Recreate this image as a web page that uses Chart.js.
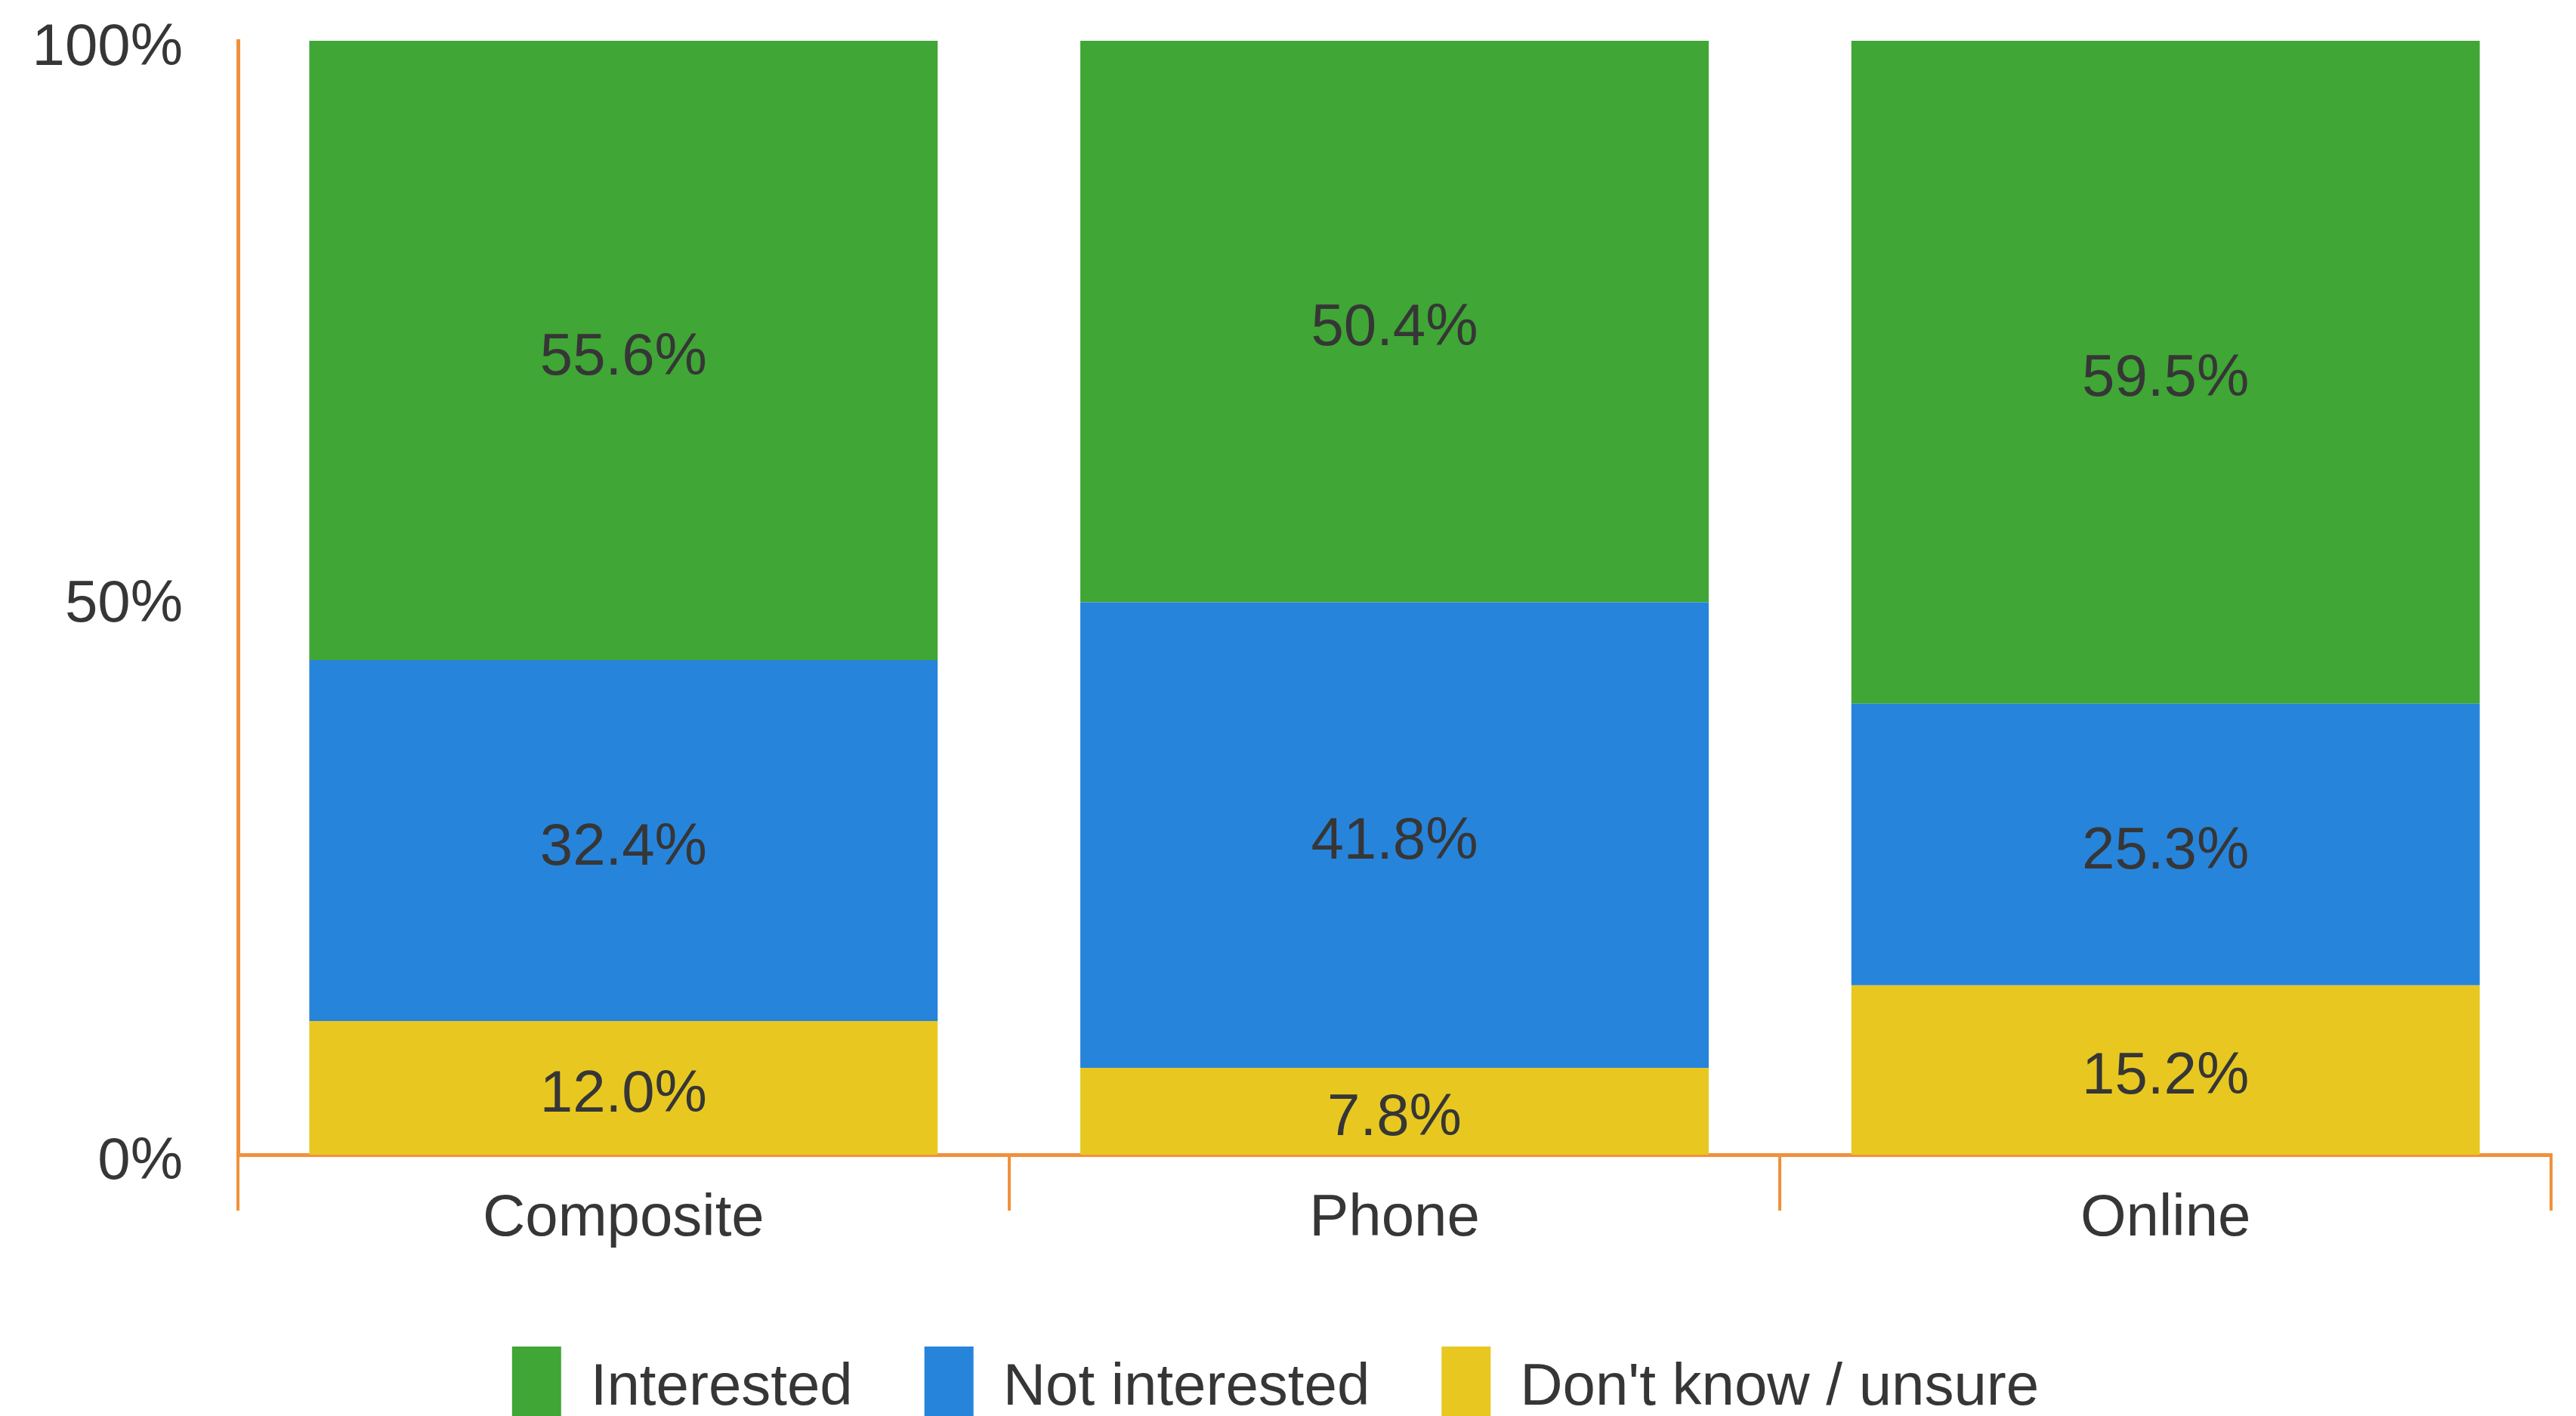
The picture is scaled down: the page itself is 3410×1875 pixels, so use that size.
<!DOCTYPE html>
<html>
<head>
<meta charset="utf-8">
<script src="https://cdn.jsdelivr.net/npm/chart.js@4.4.0/dist/chart.umd.min.js"></script>
<style>
    html, body { margin: 0; padding: 0; background: #fff; overflow: hidden; }
</style>
</head>
<body>
<canvas id="myChart" width="3410" height="1903"></canvas>
<script>
// Datos (porcentajes)
const categories = ['Composite', 'Phone', 'Online'];
const interested = [55.6, 50.4, 59.5];
const notInterested = [32.4, 41.8, 25.3];
const unsure = [12.0, 7.8, 15.2];
const yTicks = [0, 50, 100];

const axisColor = '#f0913c';
const textColor = '#363636';

Chart.defaults.font.family = '"Liberation Sans", Arial, sans-serif';
Chart.defaults.font.size = 78;
Chart.defaults.color = textColor;

// Etiquetas dentro de cada segmento
const barLabels = {
    id: 'barLabels',
    afterDatasetsDraw(chart) {
        const ctx = chart.ctx;
        ctx.save();
        ctx.font = '78px "Liberation Sans", Arial, sans-serif';
        ctx.fillStyle = textColor;
        ctx.textAlign = 'center';
        ctx.textBaseline = 'middle';
        chart.data.datasets.forEach((ds, i) => {
            const meta = chart.getDatasetMeta(i);
            meta.data.forEach((bar, j) => {
                const y = (bar.y + bar.base) / 2 + 10;
                ctx.fillText(ds.data[j].toFixed(1) + '%', bar.x, y);
            });
        });
        ctx.restore();
    }
};

const ctx = document.getElementById('myChart').getContext('2d');
new Chart(ctx, {
    type: 'bar',
    data: {
        labels: categories,
        datasets: [
            { label: "Don't know / unsure", data: unsure, backgroundColor: '#e8c820' },
            { label: 'Not interested', data: notInterested, backgroundColor: '#2784db' },
            { label: 'Interested', data: interested, backgroundColor: '#40a636' }
        ]
    },
    options: {
        responsive: false,
        animation: false,
        devicePixelRatio: 1,
        datasets: {
            bar: { categoryPercentage: 1, barPercentage: 0.815, borderWidth: 0 }
        },
        layout: { padding: { top: 54, right: 33, left: 0, bottom: 0 } },
        plugins: {
            tooltip: { enabled: false },
            legend: {
                position: 'bottom',
                reverse: true,
                labels: {
                    boxWidth: 65,
                    boxHeight: 110,
                    padding: 95,
                    color: textColor,
                    font: { size: 78 }
                }
            }
        },
        scales: {
            x: {
                stacked: true,
                grid: {
                    display: true,
                    drawOnChartArea: false,
                    drawTicks: true,
                    tickLength: 74,
                    color: axisColor,
                    lineWidth: 4
                },
                border: { display: true, color: axisColor, width: 5 },
                ticks: { padding: -35, color: textColor, font: { size: 78 } },
                afterFit: scale => { scale.height = 159; }
            },
            y: {
                stacked: true,
                min: 0,
                max: 100,
                grid: { display: false },
                border: { display: true, color: axisColor, width: 5 },
                afterBuildTicks: scale => { scale.ticks = yTicks.map(v => ({ value: v })); },
                afterFit: scale => {
                    scale.width = 315;
                    scale.paddingTop = 0;
                    scale.paddingBottom = 0;
                },
                ticks: {
                    padding: 65,
                    labelOffset: 10,
                    color: textColor,
                    font: { size: 78 },
                    callback: v => v + '%'
                }
            }
        }
    },
    plugins: [barLabels]
});
</script>
</body>
</html>
